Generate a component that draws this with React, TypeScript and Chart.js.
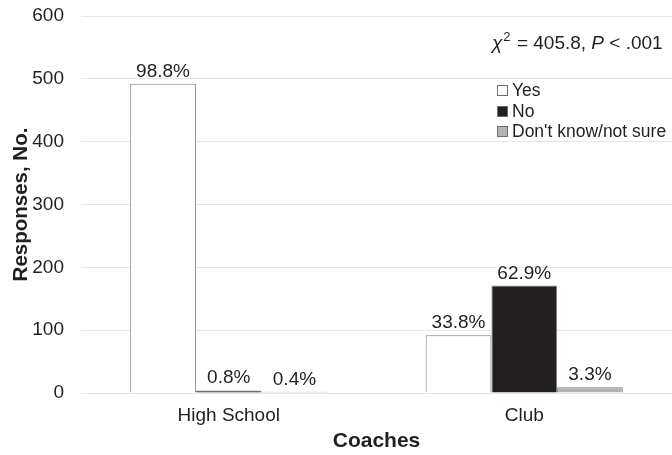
import React, { useEffect, useRef } from "react";
import { Chart, registerables } from "chart.js";

Chart.register(...registerables);

const categories = ["High School", "Club"];
const yesValues = [492, 92];
const noValues = [4, 171];
const dkValues = [2, 9];
const yesLabels = ["98.8%", "33.8%"];
const noLabels = ["0.8%", "62.9%"];
const dkLabels = ["0.4%", "3.3%"];
const seriesNames = ["Yes", "No", "Don't know/not sure"];
const yTicks = [0, 100, 200, 300, 400, 500, 600];

const FONT = "'Liberation Sans', Arial, sans-serif";

const labelPlugin = {
  id: "labels",
  afterDatasetsDraw(chart: any) {
    const ctx = chart.ctx;
    const all = [yesLabels, noLabels, dkLabels];
    ctx.save();
    ctx.font = `19px ${FONT}`;
    ctx.fillStyle = "#231f20";
    ctx.textAlign = "center";
    ctx.textBaseline = "alphabetic";
    chart.data.datasets.forEach((ds: any, i: number) => {
      const meta = chart.getDatasetMeta(i);
      meta.data.forEach((bar: any, j: number) => {
        ctx.fillText(all[i][j], bar.x, bar.y - 7);
      });
    });
    ctx.restore();
  },
};

const legendPlugin = {
  id: "customLegend",
  afterDraw(chart: any) {
    const ctx = chart.ctx;
    ctx.save();
    ctx.fillStyle = "#231f20";
    ctx.textBaseline = "alphabetic";
    ctx.textAlign = "left";
    let x = 492;
    const y = 49;
    ctx.font = `italic 19px ${FONT}`;
    ctx.fillText("χ", x, y);
    x += ctx.measureText("χ").width;
    ctx.font = `13px ${FONT}`;
    ctx.fillText("2", x + 1, y - 8);
    x += ctx.measureText("2").width + 2;
    ctx.font = `19px ${FONT}`;
    const t1 = " = 405.8, ";
    ctx.fillText(t1, x, y);
    x += ctx.measureText(t1).width;
    ctx.font = `italic 19px ${FONT}`;
    ctx.fillText("P", x, y);
    x += ctx.measureText("P").width;
    ctx.font = `19px ${FONT}`;
    ctx.fillText(" < .001", x, y);

    const fills = chart.data.datasets.map((d: any) => d.backgroundColor);
    ctx.font = `17.5px ${FONT}`;
    ctx.textBaseline = "middle";
    const lx = 497;
    const ys = [90, 111, 131];
    seriesNames.forEach((name, i) => {
      ctx.fillStyle = fills[i];
      ctx.strokeStyle = "#6d6e71";
      ctx.lineWidth = 1;
      ctx.fillRect(lx + 0.5, ys[i] - 4.5, 10, 10);
      ctx.strokeRect(lx + 0.5, ys[i] - 4.5, 10, 10);
      ctx.fillStyle = "#231f20";
      ctx.fillText(name, lx + 15, ys[i] + 1);
    });
    ctx.restore();
  },
};

export default function App() {
  const ref = useRef<HTMLCanvasElement>(null);
  useEffect(() => {
    document.body.style.margin = "0";
    const chart = new Chart(ref.current!, {
      type: "bar",
      data: {
        labels: categories,
        datasets: [
          { label: seriesNames[0], data: yesValues, backgroundColor: "#ffffff", borderColor: "#7f7f7f", borderWidth: 1 },
          { label: seriesNames[1], data: noValues, backgroundColor: "#231f20", borderColor: "#7f7f7f", borderWidth: 1 },
          { label: seriesNames[2], data: dkValues, backgroundColor: "#b3b3b3", borderColor: "#7f7f7f", borderWidth: 1 },
        ],
      },
      options: {
        animation: false,
        responsive: false,
        layout: { padding: { top: 0, right: 0, left: 9, bottom: 1 } },
        datasets: { bar: { barPercentage: 1, categoryPercentage: 0.667 } },
        plugins: { legend: { display: false }, tooltip: { enabled: false } },
        scales: {
          x: {
            afterFit: (s: any) => { s.height = 61; },
            grid: { display: false, drawTicks: false },
            border: { display: false },
            ticks: { font: { family: FONT, size: 19 }, color: "#231f20", padding: 11 },
            title: { display: true, text: "Coaches", font: { family: FONT, size: 21, weight: "bold" }, color: "#231f20", padding: { top: 2, bottom: 0 } },
          },
          y: {
            min: 0,
            max: 600,
            afterBuildTicks: (s: any) => { s.ticks = yTicks.map((v) => ({ value: v })); },
            afterFit: (s: any) => { s.width = 72; s.paddingTop = 16; s.paddingBottom = 0; },
            grid: { color: "#e6e6e6", drawTicks: false, lineWidth: 1 },
            border: { display: false },
            ticks: { font: { family: FONT, size: 19 }, color: "#231f20", padding: 17 },
            title: { display: true, text: "Responses, No.", font: { family: FONT, size: 20.5, weight: "bold" }, color: "#231f20", padding: 0 },
          },
        },
      },
      plugins: [labelPlugin, legendPlugin],
    });
    return () => chart.destroy();
  }, []);
  return (
    <div style={{ position: "absolute", left: 0, top: 0, width: 672, height: 455 }}>
      <canvas ref={ref} width={672} height={455} />
    </div>
  );
}
